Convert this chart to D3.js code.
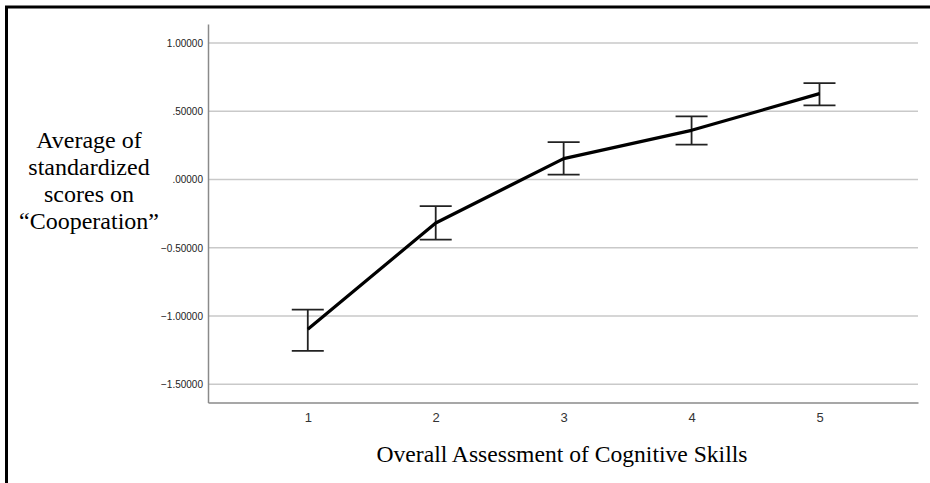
<!DOCTYPE html>
<html>
<head>
<meta charset="utf-8">
<script src="https://cdn.jsdelivr.net/npm/d3@7"></script>
<style>
  html, body { margin: 0; padding: 0; background: #fff; }
  #chart { width: 930px; height: 483px; }
</style>
</head>
<body>
<div id="chart"></div>
<script>
// skill level categories and the mean / error bar limits
const categories = [1, 2, 3, 4, 5];
const means = [-1.096, -0.318, 0.154, 0.361, 0.630];
const upper = [-0.952, -0.195, 0.275, 0.463, 0.707];
const lower = [-1.255, -0.439, 0.037, 0.256, 0.544];
const yTicks = [1, 0.5, 0, -0.5, -1, -1.5];
const yTitleLines = ['Average of', 'standardized', 'scores on', '\u201CCooperation\u201D'];
const xTitle = 'Overall Assessment of Cognitive Skills';

const width = 930, height = 483;
const svg = d3.select('#chart').append('svg')
    .attr('width', width)
    .attr('height', height);

// frame: only top and left edges are visible in the crop
svg.append('path')
    .attr('d', 'M6.5,' + height + ' V7 H' + width)
    .attr('fill', 'none')
    .attr('stroke', '#000')
    .attr('stroke-width', 3);

const x = d3.scaleLinear().domain([0.22, 5.77]).range([208, 918]);
const y = d3.scaleLinear().domain([-1.633, 1.14]).range([402.5, 24]);

// SPSS-like number format: ".50000", "-.50000", "1.00000"
const fmt = v => d3.format('.5f')(v).replace(/^(-?)0\./, '$1.');

// gridlines
svg.append('g')
    .selectAll('line')
    .data(yTicks)
  .enter().append('line')
    .attr('x1', x.range()[0])
    .attr('x2', x.range()[1])
    .attr('y1', d => y(d))
    .attr('y2', d => y(d))
    .attr('stroke', '#c9c9c9')
    .attr('stroke-width', 1.5);

// y axis
const yAxis = svg.append('g')
    .attr('transform', `translate(${x.range()[0]},0)`)
    .call(d3.axisLeft(y).tickValues(yTicks).tickFormat(fmt).tickSize(0).tickPadding(5));
yAxis.select('.domain').attr('stroke', '#8a8a8a').attr('stroke-width', 1.5);
yAxis.selectAll('text')
    .attr('font-family', '"Liberation Sans", Arial, sans-serif')
    .attr('font-size', '10px')
    .attr('fill', '#222');

// x axis
const xAxis = svg.append('g')
    .attr('transform', `translate(0,${y.range()[0]})`)
    .call(d3.axisBottom(x).tickValues(categories).tickFormat(d3.format('d')).tickSize(0).tickPadding(10));
xAxis.select('.domain').attr('stroke', '#8a8a8a').attr('stroke-width', 1.5);
xAxis.selectAll('text')
    .attr('font-family', '"Liberation Sans", Arial, sans-serif')
    .attr('font-size', '13px')
    .attr('fill', '#333');

// error bars
const bars = categories.map((c, i) => ({ c, hi: upper[i], lo: lower[i] }));
const eb = svg.append('g')
    .attr('stroke', '#222')
    .attr('stroke-width', 1.8)
    .attr('fill', 'none');
eb.selectAll('.stem')
    .data(bars)
  .enter().append('line')
    .attr('x1', d => x(d.c)).attr('x2', d => x(d.c))
    .attr('y1', d => y(d.hi)).attr('y2', d => y(d.lo));
eb.selectAll('.capHi')
    .data(bars)
  .enter().append('line')
    .attr('x1', d => x(d.c) - 16).attr('x2', d => x(d.c) + 16)
    .attr('y1', d => y(d.hi)).attr('y2', d => y(d.hi));
eb.selectAll('.capLo')
    .data(bars)
  .enter().append('line')
    .attr('x1', d => x(d.c) - 16).attr('x2', d => x(d.c) + 16)
    .attr('y1', d => y(d.lo)).attr('y2', d => y(d.lo));

// mean line
const line = d3.line()
    .x((d, i) => x(categories[i]))
    .y(d => y(d));
svg.append('path')
    .datum(means)
    .attr('d', line)
    .attr('fill', 'none')
    .attr('stroke', '#000')
    .attr('stroke-width', 3.2)
    .attr('stroke-linejoin', 'round');

// titles
svg.append('g')
    .selectAll('text')
    .data(yTitleLines)
  .enter().append('text')
    .attr('x', 89)
    .attr('y', (d, i) => 148 + i * 27)
    .attr('text-anchor', 'middle')
    .attr('font-family', '"Liberation Serif", "Times New Roman", serif')
    .attr('font-size', '24px')
    .attr('fill', '#000')
    .text(d => d);

svg.append('text')
    .attr('x', 562)
    .attr('y', 462)
    .attr('text-anchor', 'middle')
    .attr('font-family', '"Liberation Serif", "Times New Roman", serif')
    .attr('font-size', '23.6px')
    .attr('fill', '#000')
    .text(xTitle);
</script>
</body>
</html>
